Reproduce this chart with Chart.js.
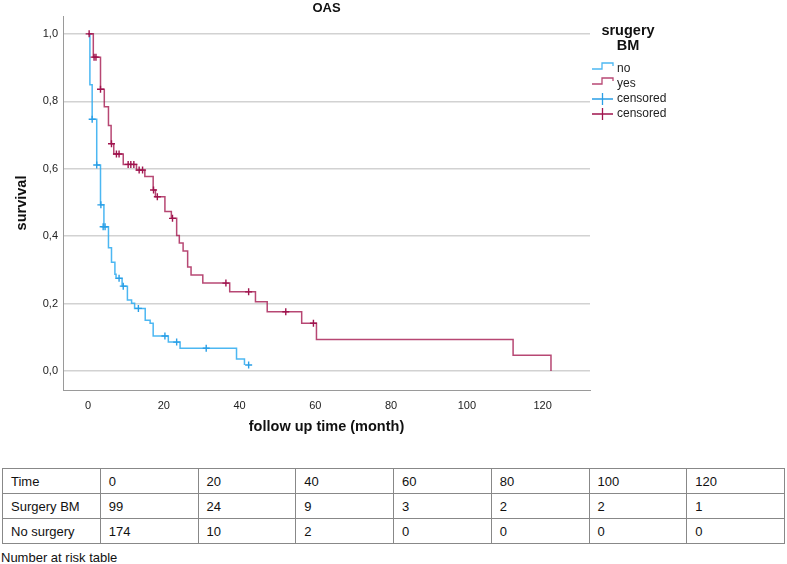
<!DOCTYPE html>
<html>
<head>
<meta charset="utf-8">
<script src="https://cdn.jsdelivr.net/npm/chart.js@4"></script>
<style>
  body { margin: 0; background: #fff; font-family: "Liberation Sans", Arial, sans-serif; }
  #wrap { position: absolute; left: 0; top: 0; width: 787px; height: 445px; }
  #risk { position: absolute; left: 2px; top: 468px; width: 783px; border-collapse: collapse; font-size: 13px; color: #111; }
  #risk td { border: 1px solid #888; height: 24px; padding: 0 0 0 8px; width: 12.5%; }
  #caption { position: absolute; left: 1px; top: 550px; font-size: 13px; color: #111; }
</style>
</head>
<body>
<div id="wrap"><canvas id="km" width="787" height="445"></canvas></div>
<table id="risk"></table>
<div id="caption">Number at risk table</div>
<script>
// survival steps (time in months, survival after the event)
const yesTimes = [0, 1.4, 3.3, 4.3, 5.4, 6.1, 6.8, 9.3, 12.8, 15.0, 17.2, 17.8, 20.3, 22.0, 23.4, 24.1, 25.1, 26.3, 27.2, 30.3, 37.4, 44.2, 47.3, 56.4, 60.3, 112.2, 122.2];
const yesSurv = [1.0, 0.931, 0.836, 0.784, 0.728, 0.674, 0.644, 0.613, 0.596, 0.577, 0.537, 0.517, 0.473, 0.453, 0.402, 0.380, 0.356, 0.309, 0.285, 0.261, 0.235, 0.206, 0.176, 0.142, 0.094, 0.047, 0.0];
const yesCensT = [0.3, 1.6, 2.1, 3.3, 6.2, 7.5, 8.2, 10.6, 11.3, 12.1, 13.5, 14.4, 17.3, 18.3, 22.3, 36.4, 42.4, 52.2, 59.5];
const yesCensS = [1.0, 0.931, 0.931, 0.836, 0.674, 0.644, 0.644, 0.613, 0.613, 0.613, 0.596, 0.596, 0.537, 0.517, 0.453, 0.261, 0.235, 0.176, 0.142];

const noTimes = [0, 0.5, 1.1, 2.3, 3.3, 4.2, 5.4, 6.2, 7.1, 7.4, 9.0, 10.4, 11.5, 12.3, 15.1, 16.4, 17.2, 21.2, 24.3, 39.2, 41.3];
const noSurv = [1.0, 0.849, 0.747, 0.611, 0.493, 0.428, 0.366, 0.323, 0.287, 0.275, 0.252, 0.211, 0.201, 0.186, 0.151, 0.142, 0.104, 0.086, 0.068, 0.036, 0.018];
const noCensT = [1.1, 2.3, 3.4, 4.0, 4.5, 8.2, 9.3, 13.3, 20.3, 23.4, 31.2, 42.4];
const noCensS = [0.747, 0.611, 0.493, 0.428, 0.428, 0.275, 0.252, 0.186, 0.104, 0.086, 0.068, 0.018];

const xTicks = [0, 20, 40, 60, 80, 100, 120];
const yTicks = [0, 0.2, 0.4, 0.6, 0.8, 1.0];

const riskTimes = [0, 20, 40, 60, 80, 100, 120];
const riskSurgery = [99, 24, 9, 3, 2, 2, 1];
const riskNoSurgery = [174, 10, 2, 0, 0, 0, 0];

const blue = 'rgba(45,170,240,0.85)';
const blueMark = '#2a9fe6';
const red = 'rgba(165,25,80,0.8)';
const redMark = '#a0144e';

const pts = (xs, ys) => xs.map((x, i) => ({ x: x, y: ys[i] }));

// risk table
const rows = [['Time'].concat(riskTimes), ['Surgery BM'].concat(riskSurgery), ['No surgery'].concat(riskNoSurgery)];
document.getElementById('risk').innerHTML = rows.map(r => '<tr>' + r.map(c => '<td>' + c + '</td>').join('') + '</tr>').join('');

const overlay = {
  id: 'overlay',
  afterDraw(chart) {
    const ctx = chart.ctx;
    const a = chart.chartArea;
    ctx.save();
    ctx.fillStyle = '#111';
    ctx.textAlign = 'center';
    ctx.textBaseline = 'middle';
    ctx.font = 'bold 13px "Liberation Sans", Arial, sans-serif';
    ctx.fillText('OAS', (a.left + a.right) / 2, 8);

    ctx.font = 'bold 14.5px "Liberation Sans", Arial, sans-serif';
    ctx.fillText('srugery', 628, 31);
    ctx.fillText('BM', 628, 46);

    ctx.font = '12px "Liberation Sans", Arial, sans-serif';
    ctx.textAlign = 'left';
    const items = [['no', blue, 'step'], ['yes', red, 'step'], ['censored', blueMark, 'cross'], ['censored', redMark, 'cross']];
    items.forEach((it, i) => {
      const y = 69 + i * 15;
      ctx.strokeStyle = it[1];
      ctx.lineWidth = 1.3;
      ctx.beginPath();
      if (it[2] === 'step') {
        ctx.moveTo(592, y);
        ctx.lineTo(602, y);
        ctx.lineTo(602, y - 6);
        ctx.lineTo(613, y - 6);
        ctx.lineTo(613, y - 3);
      } else {
        ctx.moveTo(592, y);
        ctx.lineTo(613, y);
        ctx.moveTo(602.5, y - 6);
        ctx.lineTo(602.5, y + 6);
      }
      ctx.stroke();
      ctx.fillStyle = '#222';
      ctx.fillText(it[0], 617, y);
    });
    ctx.restore();
  }
};

new Chart(document.getElementById('km'), {
  type: 'scatter',
  data: {
    datasets: [
      { label: 'yes censored', data: pts(yesCensT, yesCensS), pointStyle: 'cross', pointRadius: 3.5, borderColor: redMark, borderWidth: 1.4, showLine: false, order: 0 },
      { label: 'no censored', data: pts(noCensT, noCensS), pointStyle: 'cross', pointRadius: 3.5, borderColor: blueMark, borderWidth: 1.4, showLine: false, order: 1 },
      { label: 'yes', data: pts(yesTimes, yesSurv), showLine: true, stepped: 'before', borderColor: red, borderWidth: 1.5, pointRadius: 0, order: 2 },
      { label: 'no', data: pts(noTimes, noSurv), showLine: true, stepped: 'before', borderColor: blue, borderWidth: 1.5, pointRadius: 0, order: 3 }
    ]
  },
  options: {
    responsive: false,
    animation: false,
    devicePixelRatio: 1,
    layout: { padding: { top: 16, right: 197, left: 0, bottom: 0 } },
    plugins: { legend: { display: false }, tooltip: { enabled: false } },
    scales: {
      x: {
        type: 'linear', min: -6.6, max: 132.5,
        afterBuildTicks: s => { s.ticks = xTicks.map(v => ({ value: v })); },
        afterFit: s => { s.height = 55; },
        grid: { display: false },
        border: { display: true, color: '#9a9a9a', width: 1 },
        ticks: { color: '#222', font: { size: 11, family: '"Liberation Sans", Arial, sans-serif' }, padding: 1, maxRotation: 0 },
        title: { display: true, text: 'follow up time (month)', color: '#111', font: { size: 14.5, weight: 'bold', family: '"Liberation Sans", Arial, sans-serif' }, padding: { top: 0, bottom: 9 } }
      },
      y: {
        min: -0.056, max: 1.053,
        afterBuildTicks: s => { s.ticks = yTicks.map(v => ({ value: v })); },
        afterFit: s => { s.width = 63; },
        grid: { color: '#d2d2d2', lineWidth: 1.6, drawTicks: false },
        border: { display: true, color: '#9a9a9a', width: 1 },
        ticks: { color: '#222', font: { size: 11, family: '"Liberation Sans", Arial, sans-serif' }, padding: 5, callback: v => v.toFixed(1).replace('.', ',') },
        title: { display: true, text: 'survival', color: '#111', font: { size: 14.5, weight: 'bold', family: '"Liberation Sans", Arial, sans-serif' }, padding: { top: 13, bottom: 0 } }
      }
    }
  },
  plugins: [overlay]
});
</script>
</body>
</html>
